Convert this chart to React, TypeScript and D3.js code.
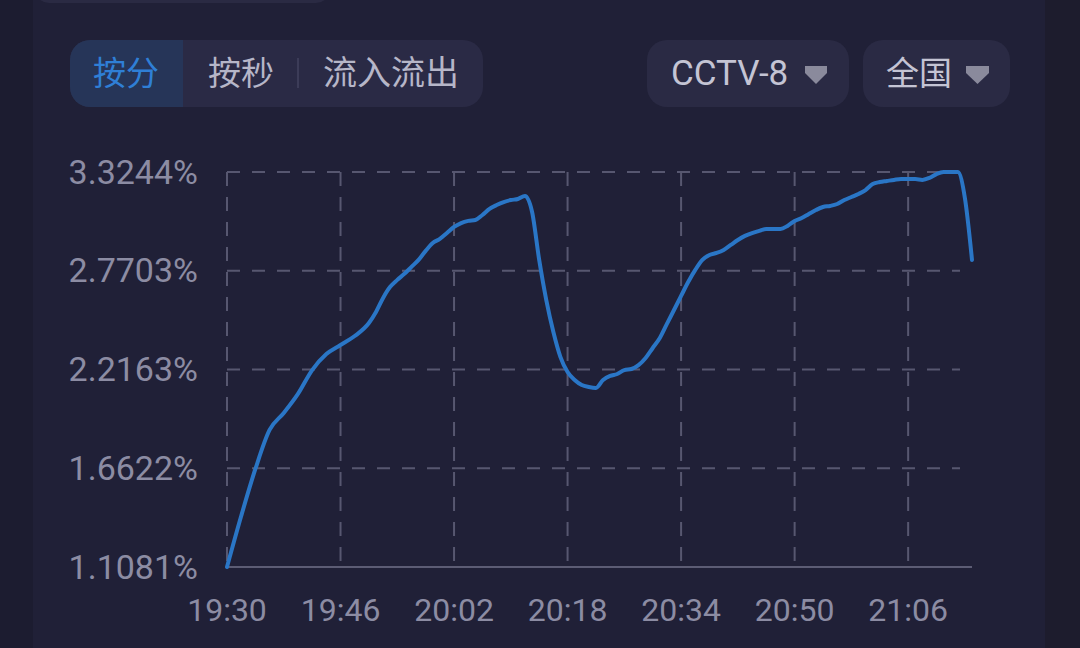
import React from "react";
import * as d3 from "d3";

const xTickLabels = ["19:30", "19:46", "20:02", "20:18", "20:34", "20:50", "21:06"];
const yTickValues = [1.1081, 1.6622, 2.2163, 2.7703, 3.3244];
const domainStart = "19:30";
const domainEnd = "21:15";

const times = [
  "19:30", "19:32", "19:34", "19:36", "19:38", "19:40", "19:42", "19:44", "19:46", "19:48",
  "19:50", "19:51", "19:52", "19:53", "19:54", "19:55", "19:56", "19:57", "19:58", "19:59",
  "20:00", "20:01", "20:02", "20:03", "20:04", "20:05", "20:06", "20:07", "20:08", "20:09",
  "20:10", "20:11", "20:12", "20:13", "20:14", "20:15", "20:16", "20:17", "20:18", "20:19",
  "20:20", "20:21", "20:22", "20:23", "20:24", "20:25", "20:26", "20:27", "20:28", "20:29",
  "20:30", "20:31", "20:32", "20:33", "20:34", "20:35", "20:36", "20:37", "20:38", "20:39",
  "20:40", "20:41", "20:42", "20:43", "20:44", "20:45", "20:46", "20:47", "20:48", "20:49",
  "20:50", "20:51", "20:52", "20:53", "20:54", "20:55", "20:56", "20:57", "20:58", "20:59",
  "21:00", "21:01", "21:02", "21:03", "21:04", "21:05", "21:06", "21:07", "21:08", "21:09",
  "21:10", "21:11", "21:12", "21:13", "21:14", "21:15",
];

const ratings = [
  1.1081, 1.394, 1.658, 1.877, 1.972, 2.079, 2.213, 2.303, 2.354, 2.404,
  2.477, 2.539, 2.618, 2.68, 2.719, 2.753, 2.792, 2.831, 2.882, 2.926,
  2.949, 2.982, 3.016, 3.038, 3.05, 3.055, 3.083, 3.117, 3.139, 3.156,
  3.167, 3.173, 3.19, 3.1, 2.831, 2.606, 2.427, 2.286, 2.202, 2.157,
  2.129, 2.118, 2.113, 2.157, 2.18, 2.191, 2.213, 2.219, 2.241, 2.281,
  2.337, 2.393, 2.472, 2.55, 2.629, 2.707, 2.775, 2.831, 2.859, 2.87,
  2.887, 2.915, 2.943, 2.966, 2.982, 2.994, 3.005, 3.005, 3.005, 3.022,
  3.05, 3.066, 3.089, 3.111, 3.128, 3.134, 3.145, 3.167, 3.184, 3.201,
  3.223, 3.257, 3.268, 3.274, 3.28, 3.285, 3.285, 3.285, 3.28, 3.291,
  3.313, 3.3244, 3.3244, 3.3244, 3.178, 2.831,
];

const tabLabels = ["按分", "按秒", "流入流出"];
const channelLabel = "CCTV-8";
const regionLabel = "全国";

const parse = d3.timeParse("%H:%M");

export default function App() {
  const W = 1080;
  const H = 648;
  const left = 227;
  const right = 972;
  const top = 172;
  const bottom = 567;
  const gridRight = 960;

  const x = d3
    .scaleTime()
    .domain([parse(domainStart) as Date, parse(domainEnd) as Date])
    .range([left, right]);
  const y = d3
    .scaleLinear()
    .domain([d3.min(yTickValues) as number, d3.max(yTickValues) as number])
    .range([bottom, top]);

  const data = times.map((t, i) => ({ t: parse(t) as Date, v: ratings[i] }));
  const line = d3
    .line<{ t: Date; v: number }>()
    .x((d) => x(d.t))
    .y((d) => y(d.v))
    .curve(d3.curveMonotoneX);

  const fmtY = (v: number) => v.toFixed(4) + "%";
  const numFont = "Roboto, 'Noto Sans', sans-serif";
  const cjkFont = "'Noto Sans CJK SC', 'Noto Sans', sans-serif";
  const gridColor = "#575770";
  const labelColor = "#8c8ca3";

  return (
    <div style={{ position: "fixed", left: 0, top: 0, width: W, height: H }}>
      <svg width={W} height={H} viewBox={`0 0 ${W} ${H}`} style={{ display: "block" }}>
        <rect x={0} y={0} width={W} height={H} fill="#1c1c30" />
        <rect x={33} y={0} width={1012} height={H} fill="#202037" />
        <rect x={1045} y={0} width={35} height={H} fill="#1d1c2d" />
        <rect x={35} y={-30} width={295} height={33} rx={14} fill="#2a2a43" />

        {/* Tab group */}
        <rect x={70} y={40} width={413} height={67} rx={20} fill="#2a2a45" />
        <path d="M90,40 H183 V107 H90 A20,20 0 0 1 70,87 V60 A20,20 0 0 1 90,40 Z" fill="#263558" />
        <line x1={298} x2={298} y1={58} y2={88} stroke="#3c3c58" strokeWidth={2} />
        <text x={126} y={85} textAnchor="middle" fontFamily={cjkFont} fontSize={33} fill="#2f7fd6">
          {tabLabels[0]}
        </text>
        <text x={241} y={85} textAnchor="middle" fontFamily={cjkFont} fontSize={33} fill="#b6b6c8">
          {tabLabels[1]}
        </text>
        <text x={391} y={85} textAnchor="middle" fontFamily={cjkFont} fontSize={34} fill="#b6b6c8">
          {tabLabels[2]}
        </text>

        {/* Dropdowns */}
        <rect x={647} y={40} width={202} height={67} rx={20} fill="#2a2a44" />
        <text x={671} y={85} fontFamily={numFont} fontSize={35} fill="#c4c4d4">
          {channelLabel}
        </text>
        <path d="M805,66 H827 V73 L816,84 L805,73 Z" fill="#8a8a9c" strokeLinejoin="round" />
        <rect x={863} y={40} width={147} height={67} rx={20} fill="#2a2a44" />
        <text x={886} y={85} fontFamily={cjkFont} fontSize={33} fill="#c4c4d4">
          {regionLabel}
        </text>
        <path d="M966,66 H989 V73 L977.5,84 L966,73 Z" fill="#8a8a9c" />

        {/* Grid */}
        {yTickValues
          .filter((v) => v !== yTickValues[0])
          .map((v) => (
            <line
              key={"h" + v}
              x1={left}
              x2={gridRight}
              y1={y(v)}
              y2={y(v)}
              stroke={gridColor}
              strokeWidth={2}
              strokeDasharray="13 12"
            />
          ))}
        {xTickLabels.map((t) => (
          <line
            key={"v" + t}
            x1={x(parse(t) as Date)}
            x2={x(parse(t) as Date)}
            y1={top}
            y2={bottom}
            stroke={gridColor}
            strokeWidth={2}
            strokeDasharray="14 11"
          />
        ))}
        <line x1={left} x2={right} y1={bottom} y2={bottom} stroke="#5c5c74" strokeWidth={2} />

        {/* Y labels */}
        {yTickValues.map((v) => (
          <text
            key={"yl" + v}
            x={198}
            y={y(v) + 11.5}
            textAnchor="end"
            fontFamily={numFont}
            fontSize={34}
            fill={labelColor}
          >
            {fmtY(v)}
          </text>
        ))}
        {/* X labels */}
        {xTickLabels.map((t) => (
          <text
            key={"xl" + t}
            x={x(parse(t) as Date)}
            y={621}
            textAnchor="middle"
            fontFamily={numFont}
            fontSize={32}
            fill={labelColor}
          >
            {t}
          </text>
        ))}

        <path
          d={line(data) || ""}
          fill="none"
          stroke="#2a76c6"
          strokeWidth={4}
          strokeLinejoin="round"
          strokeLinecap="round"
        />
      </svg>
    </div>
  );
}
